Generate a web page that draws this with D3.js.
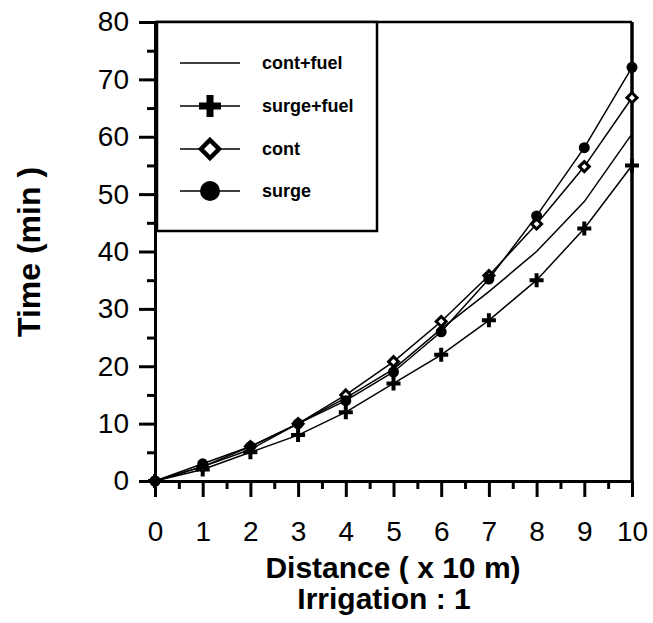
<!DOCTYPE html>
<html>
<head>
  <script src="https://d3js.org/d3.v7.min.js"></script>
  <style>
    body { margin: 0; background: #fff; }
    svg { font-family: "Liberation Sans", Arial, sans-serif; }
    .tick text { font-size: 28px; fill: #000; }
    .axis-title { font-size: 30px; font-weight: bold; }
    .legend-label { font-size: 18px; font-weight: bold; }
  </style>
</head>
<body>
  <svg width="653" height="623"></svg>

  <script>
    // data (distance in x 10 m, time in min)
    const distance = [0, 1, 2, 3, 4, 5, 6, 7, 8, 9, 10];
    const contFuel = [0, 2.5, 5.5, 10, 14.5, 19.5, 26.5, 33, 40, 48.7, 60.5];
    const surgeFuel = [0, 2, 5, 8, 12, 17, 22, 28, 35, 44, 55];
    const cont = [0, 2.5, 6, 10, 15, 20.8, 27.8, 35.8, 44.8, 54.8, 66.8];
    const surge = [0, 3, 6, 10, 14, 19, 26, 35.2, 46.2, 58.1, 72.1];

    const seriesNames = ["cont+fuel", "surge+fuel", "cont", "surge"];
    const markerTypes = ["none", "plus", "diamond", "circle"];
    const xTicks = [0, 1, 2, 3, 4, 5, 6, 7, 8, 9, 10];
    const yTicks = [0, 10, 20, 30, 40, 50, 60, 70, 80];

    const series = [contFuel, surgeFuel, cont, surge].map((vals, i) => ({
      name: seriesNames[i],
      marker: markerTypes[i],
      points: vals.map((v, j) => ({ x: distance[j], y: v }))
    }));

    const svg = d3.select("svg");
    const x = d3.scaleLinear().domain([0, 10]).range([155, 632]);
    const y = d3.scaleLinear().domain([0, 80]).range([481, 22]);

    // plus shape as a path, centred on 0,0
    function plusPath(a, t) {
      const h = t / 2;
      return `M${-h},${-a}H${h}V${-h}H${a}V${h}H${h}V${a}H${-h}V${h}H${-a}V${-h}H${-h}Z`;
    }

    function drawMarker(g, type, big) {
      if (type === "circle") {
        g.append("circle").attr("r", big ? 10 : 5.5).attr("fill", "#000");
      } else if (type === "plus") {
        g.append("path").attr("d", big ? plusPath(11, 7) : plusPath(7, 4)).attr("fill", "#000");
      } else if (type === "diamond") {
        const s = big ? 9 : 5;
        g.append("path")
          .attr("d", `M0,${-s}L${s},0L0,${s}L${-s},0Z`)
          .attr("fill", "#fff")
          .attr("stroke", "#000")
          .attr("stroke-width", big ? 4.5 : 3);
      }
    }

    // frame (top and right)
    svg.append("line")
      .attr("x1", x(0)).attr("x2", x(10)).attr("y1", y(80)).attr("y2", y(80))
      .attr("stroke", "#000").attr("stroke-width", 2.5);
    svg.append("line")
      .attr("x1", x(10)).attr("x2", x(10)).attr("y1", y(80)).attr("y2", y(0))
      .attr("stroke", "#000").attr("stroke-width", 3.5);

    // lines
    const line = d3.line().x(d => x(d.x)).y(d => y(d.y));
    svg.selectAll(".series-line")
      .data(series)
      .enter().append("path")
      .attr("class", "series-line")
      .attr("d", d => line(d.points))
      .attr("fill", "none")
      .attr("stroke", "#000")
      .attr("stroke-width", 1.5);

    // markers
    series.forEach(s => {
      if (s.marker === "none") return;
      s.points.forEach(p => {
        const g = svg.append("g").attr("transform", `translate(${x(p.x)},${y(p.y)})`);
        drawMarker(g, s.marker, false);
      });
    });

    // y axis
    svg.append("g")
      .attr("transform", `translate(${x(0)},0)`)
      .call(d3.axisLeft(y).tickValues(yTicks).tickSize(16).tickSizeOuter(0).tickPadding(10));
    svg.append("g")
      .attr("transform", `translate(${x(0)},0)`)
      .call(d3.axisLeft(y).tickValues(d3.range(5, 80, 10)).tickSize(8).tickFormat(""))
      .call(g => g.select(".domain").remove());

    // x axis
    svg.append("g")
      .attr("transform", `translate(0,${y(0)})`)
      .call(d3.axisBottom(x).tickValues(xTicks).tickSize(16).tickSizeOuter(0).tickPadding(24));
    svg.append("g")
      .attr("transform", `translate(0,${y(0)})`)
      .call(d3.axisBottom(x).tickValues(d3.range(0.5, 10, 1)).tickSize(8).tickFormat(""))
      .call(g => g.select(".domain").remove());

    svg.selectAll(".domain").attr("stroke", "#000").attr("stroke-width", 3);
    svg.selectAll(".tick line").attr("stroke", "#000").attr("stroke-width", 3);
    svg.selectAll(".tick text").attr("font-family", null).attr("font-size", null);

    // the origin point sits on top of the axes
    const origin = svg.append("g").attr("transform", `translate(${x(0)},${y(0)})`);
    drawMarker(origin, "circle", false);

    // axis titles
    svg.append("text")
      .attr("class", "axis-title")
      .attr("transform", `translate(40,252) rotate(-90)`)
      .attr("text-anchor", "middle")
      .style("font-size", "32px")
      .text("Time (min )");
    svg.append("text")
      .attr("class", "axis-title")
      .attr("x", 393).attr("y", 578)
      .attr("text-anchor", "middle")
      .text("Distance ( x 10 m)");
    svg.append("text")
      .attr("class", "axis-title")
      .attr("x", 384).attr("y", 609)
      .attr("text-anchor", "middle")
      .text("Irrigation : 1");

    // legend
    const legend = svg.append("g");
    legend.append("rect")
      .attr("x", 157).attr("y", 22).attr("width", 220).attr("height", 209)
      .attr("fill", "#fff").attr("stroke", "#000").attr("stroke-width", 2.5);
    const rowY = [63, 106, 149, 191];
    series.forEach((s, i) => {
      const row = legend.append("g").attr("transform", `translate(0,${rowY[i]})`);
      row.append("line")
        .attr("x1", 180).attr("x2", 240).attr("y1", 0).attr("y2", 0)
        .attr("stroke", "#000").attr("stroke-width", 1.5);
      const m = row.append("g").attr("transform", "translate(210,0)");
      drawMarker(m, s.marker, true);
      row.append("text")
        .attr("class", "legend-label")
        .attr("x", 262).attr("y", 6)
        .text(s.name);
    });
  </script>
</body>
</html>
